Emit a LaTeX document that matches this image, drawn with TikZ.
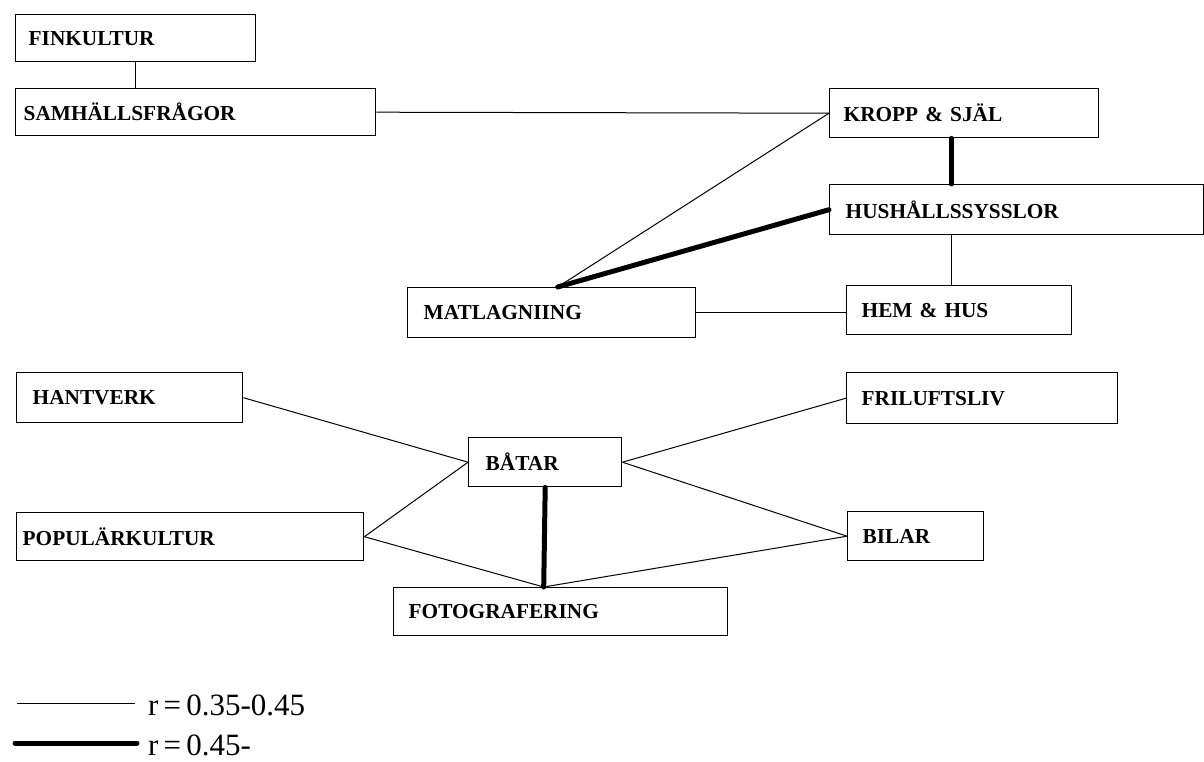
\documentclass[tikz,border=0pt]{standalone}
\usepackage{fontspec}
\setmainfont{Liberation Serif}

\newcommand{\boxfont}{\fontsize{21.3}{24}\selectfont\bfseries}
\newcommand{\legfont}{\fontsize{31}{34}\selectfont}

\begin{document}
\begin{tikzpicture}[x=1pt, y=-1pt,
    kat/.style={draw, line width=1.4pt, anchor=north west, inner sep=0pt,
                inner xsep=15pt, align=left, font=\boxfont},
    weak/.style={line width=1pt},
    strong/.style={line width=5pt, line cap=round}]
  \useasboundingbox (0,0) rectangle (1204,762);

  % left column, top
  \node[kat, inner xsep=13pt, text width=214pt, minimum height=47pt] (fin) at (15,14) {FINKULTUR};
  \node[kat, inner xsep=8pt, text width=344pt, minimum height=47pt] (sam) at (15,88) {SAMHÄLLSFRÅGOR};
  % right column, top
  \node[kat, inner xsep=14pt, text width=241pt, minimum height=49pt] (kropp) at (829,88) {KROPP \& SJÄL};
  \node[kat, inner xsep=16pt, text width=342pt, minimum height=50pt] (hush) at (829,184) {HUSHÅLLSSYSSLOR};
  \node[kat, inner xsep=16pt, text width=256pt, minimum height=50pt] (matl) at (407,287) {MATLAGNIING};
  \node[kat, text width=195pt, minimum height=49pt] (hem) at (846,285) {HEM \& HUS};
  % lower group
  \node[kat, text width=241pt, minimum height=51pt] (fril) at (846,372) {FRILUFTSLIV};
  \node[kat, inner xsep=16pt, text width=194pt, minimum height=50pt] (hant) at (16,372) {HANTVERK};
  \node[kat, inner xsep=17pt, text width=119pt, minimum height=49pt] (batar) at (468,437) {BÅTAR};
  \node[kat, inner xsep=6pt, text width=335pt, minimum height=48pt] (pop) at (16,512) {POPULÄRKULTUR};
  \node[kat, text width=106pt, minimum height=49pt] (bilar) at (847,511) {BILAR};
  \node[kat, text width=304pt, minimum height=48pt] (foto) at (393,587) {FOTOGRAFERING};

  \coordinate (fotop) at ([xshift=-17pt]foto.north);
  \coordinate (matlp) at ([xshift=6pt]matl.north);
  \coordinate (krtop) at ([xshift=-13pt]kropp.south);
  \coordinate (hemtop) at ([xshift=-8pt]hem.north);

  % r = 0.35-0.45
  \draw[weak] (fin.south) -- (fin.south |- sam.north);
  \draw[weak] (sam.east) -- (kropp.west);
  \draw[weak] (matlp) -- (kropp.west);
  \draw[weak] (hemtop) -- (hemtop |- hush.south);
  \draw[weak] (matl.east) -- (matl.east -| hem.west);
  \draw[weak] (hant.east) -- (batar.west);
  \draw[weak] (pop.east) -- (batar.west);
  \draw[weak] (pop.east) -- (fotop);
  \draw[weak] (batar.east) -- (fril.west);
  \draw[weak] (batar.east) -- (bilar.west);
  \draw[weak] (bilar.west) -- (fotop);
  % r = 0.45-
  \draw[strong] (krtop) -- (krtop |- hush.north);
  \draw[strong] (matlp) -- (hush.west);
  \draw[strong] (batar.south) -- (fotop);

  % legend
  \node[anchor=base west, inner sep=0pt, font=\legfont] (leg1) at (148,715) {r\,=\,0.35-0.45};
  \node[anchor=base west, inner sep=0pt, font=\legfont] (leg2) at (148,755) {r\,=\,0.45-};
  \coordinate (l1) at (17,703);
  \coordinate (l2) at (15,743);
  \draw[weak] (l1) -- ([xshift=-13pt]l1 -| leg1.west);
  \draw[strong] (l2) -- ([xshift=-11pt]l2 -| leg2.west);
\end{tikzpicture}
\end{document}
